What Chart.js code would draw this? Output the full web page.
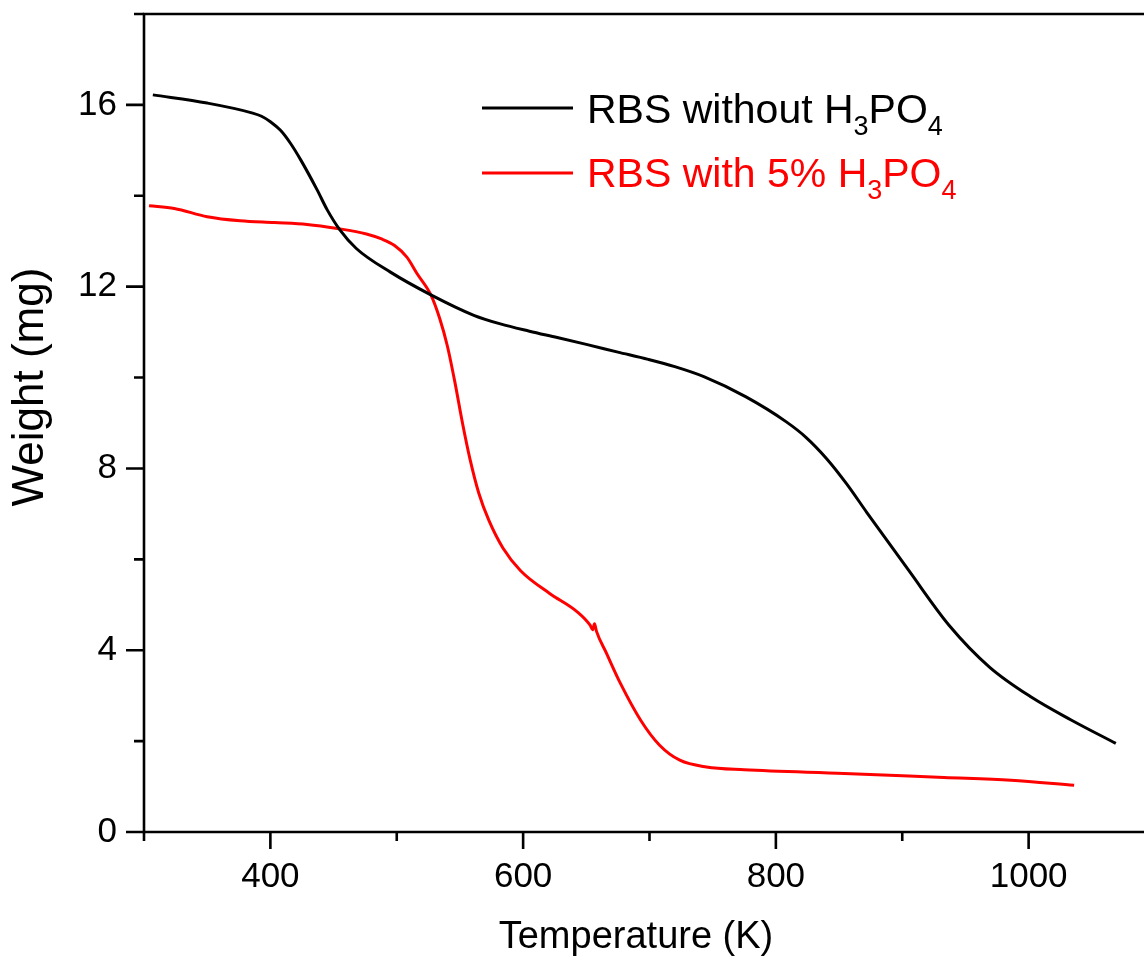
<html>
<head>
<script src="https://cdn.jsdelivr.net/npm/chart.js"></script>
<style>
  body { margin: 0; overflow: hidden; background: #fff; }
  #wrap { width: 1170px; height: 958px; }
</style>
</head>
<body>
<div id="wrap"><canvas id="tga"></canvas></div>
<script>
// RBS without H3PO4 (black)
const tempPlain   = [307, 350, 386, 393, 400, 408, 416, 424, 437, 445, 455, 468, 495, 527, 561, 582, 605, 627, 650, 675, 699, 720, 743, 776, 808, 824, 840, 856, 872, 905, 937, 969, 1002, 1034, 1069];
const weightPlain = [16.22, 16.04, 15.82, 15.75, 15.63, 15.44, 15.15, 14.79, 14.13, 13.69, 13.25, 12.84, 12.32, 11.82, 11.37, 11.18, 11.02, 10.88, 10.73, 10.56, 10.40, 10.24, 10.02, 9.58, 9.03, 8.68, 8.22, 7.66, 7.03, 5.76, 4.55, 3.63, 2.97, 2.46, 1.95];

// RBS with 5% H3PO4 (red)
const tempAcid   = [304, 324, 350, 376, 403, 429, 453, 476, 488, 498, 508, 516, 527, 534, 540, 546, 552, 558, 565, 573, 584, 598, 621, 643, 653, 655, 656.5, 658, 666, 677, 693, 708, 724, 745, 775, 854, 933, 986, 1036];
const weightAcid = [13.78, 13.72, 13.54, 13.45, 13.41, 13.37, 13.28, 13.16, 13.05, 12.91, 12.65, 12.29, 11.82, 11.30, 10.70, 9.90, 9.00, 8.20, 7.45, 6.85, 6.25, 5.75, 5.25, 4.84, 4.55, 4.45, 4.58, 4.42, 3.93, 3.27, 2.46, 1.91, 1.58, 1.43, 1.37, 1.29, 1.20, 1.14, 1.03];

const xTicks  = [300, 400, 500, 600, 700, 800, 900, 1000, 1100];
const xLabels = [400, 600, 800, 1000];
const yTicks  = [0, 2, 4, 6, 8, 10, 12, 14, 16, 18];
const yLabels = [0, 4, 8, 12, 16];

const FONT = '"Liberation Sans", Arial, sans-serif';

function pts(xs, ys) {
  return xs.map((t, i) => ({ x: t, y: ys[i] }));
}

// frame, tick marks, axis titles and the legend with subscripts
const decor = {
  id: 'decor',
  afterDraw(chart) {
    const { ctx, chartArea: a, scales: { x, y } } = chart;
    ctx.save();
    ctx.strokeStyle = '#000';
    ctx.lineWidth = 2.6;
    ctx.lineCap = 'square';
    ctx.beginPath();
    ctx.moveTo(a.left, a.bottom);
    ctx.lineTo(a.left, a.top);
    ctx.lineTo(a.right, a.top);
    ctx.lineTo(a.right, a.bottom);
    ctx.lineTo(a.left, a.bottom);
    ctx.stroke();

    ctx.lineCap = 'butt';
    ctx.beginPath();
    xTicks.forEach(v => {
      const px = x.getPixelForValue(v);
      const len = xLabels.includes(v) ? 17 : 9;
      ctx.moveTo(px, a.bottom);
      ctx.lineTo(px, a.bottom + len);
    });
    yTicks.forEach(v => {
      const py = y.getPixelForValue(v);
      const len = yLabels.includes(v) ? 18 : 10;
      ctx.moveTo(a.left - len, py);
      ctx.lineTo(a.left, py);
    });
    ctx.stroke();

    // axis titles
    ctx.fillStyle = '#000';
    ctx.textAlign = 'center';
    ctx.textBaseline = 'alphabetic';
    ctx.font = '38px ' + FONT;
    ctx.fillText('Temperature (K)', 636, 948);
    ctx.save();
    ctx.translate(43, 387);
    ctx.rotate(-Math.PI / 2);
    ctx.font = '44px ' + FONT;
    ctx.fillText('Weight (mg)', 0, 0);
    ctx.restore();

    // legend
    const entries = [
      { color: '#000000', lineY: 108, base: 123, parts: ['RBS without H', '3', 'PO', '4'] },
      { color: '#ff0000', lineY: 173, base: 187, parts: ['RBS with 5% H', '3', 'PO', '4'] }
    ];
    ctx.textAlign = 'left';
    entries.forEach(e => {
      ctx.strokeStyle = e.color;
      ctx.lineWidth = 3;
      ctx.beginPath();
      ctx.moveTo(482, e.lineY);
      ctx.lineTo(573, e.lineY);
      ctx.stroke();
      ctx.fillStyle = e.color;
      let cx = 587;
      e.parts.forEach((p, i) => {
        const sub = i % 2 === 1;
        ctx.font = (sub ? '27px ' : '41px ') + FONT;
        ctx.fillText(p, cx, e.base + (sub ? 12 : 0));
        cx += ctx.measureText(p).width;
      });
    });
    ctx.restore();
  }
};

new Chart(document.getElementById('tga'), {
  type: 'line',
  data: {
    datasets: [
      {
        label: 'RBS without H3PO4',
        data: pts(tempPlain, weightPlain),
        borderColor: '#000000',
        borderWidth: 3,
        pointRadius: 0,
        cubicInterpolationMode: 'monotone',
        fill: false
      },
      {
        label: 'RBS with 5% H3PO4',
        data: pts(tempAcid, weightAcid),
        borderColor: '#ff0000',
        borderWidth: 3,
        pointRadius: 0,
        cubicInterpolationMode: 'monotone',
        fill: false
      }
    ]
  },
  options: {
    responsive: true,
    maintainAspectRatio: false,
    animation: false,
    layout: { padding: { top: 14, right: 15, left: 0, bottom: 0 } },
    plugins: {
      legend: { display: false },
      tooltip: { enabled: false }
    },
    scales: {
      x: {
        type: 'linear',
        min: 300,
        max: 1100,
        afterFit: s => { s.height = 126; s.paddingLeft = 0; s.paddingRight = 0; },
        border: { display: false },
        grid: { drawOnChartArea: false, color: 'rgba(0,0,0,0)', tickLength: 17 },
        ticks: {
          stepSize: 100,
          autoSkip: false,
          maxRotation: 0,
          padding: 7,
          color: '#000',
          font: { family: FONT, size: 35 },
          callback: v => xLabels.includes(v) ? String(v) : null
        }
      },
      y: {
        min: 0,
        max: 18,
        afterFit: s => { s.width = 144; s.paddingTop = 0; s.paddingBottom = 0; },
        border: { display: false },
        grid: { drawOnChartArea: false, color: 'rgba(0,0,0,0)', tickLength: 18 },
        ticks: {
          stepSize: 2,
          autoSkip: false,
          padding: 9,
          color: '#000',
          font: { family: FONT, size: 35 },
          callback: v => yLabels.includes(v) ? String(v) : null
        }
      }
    }
  },
  plugins: [decor]
});
</script>
</body>
</html>
